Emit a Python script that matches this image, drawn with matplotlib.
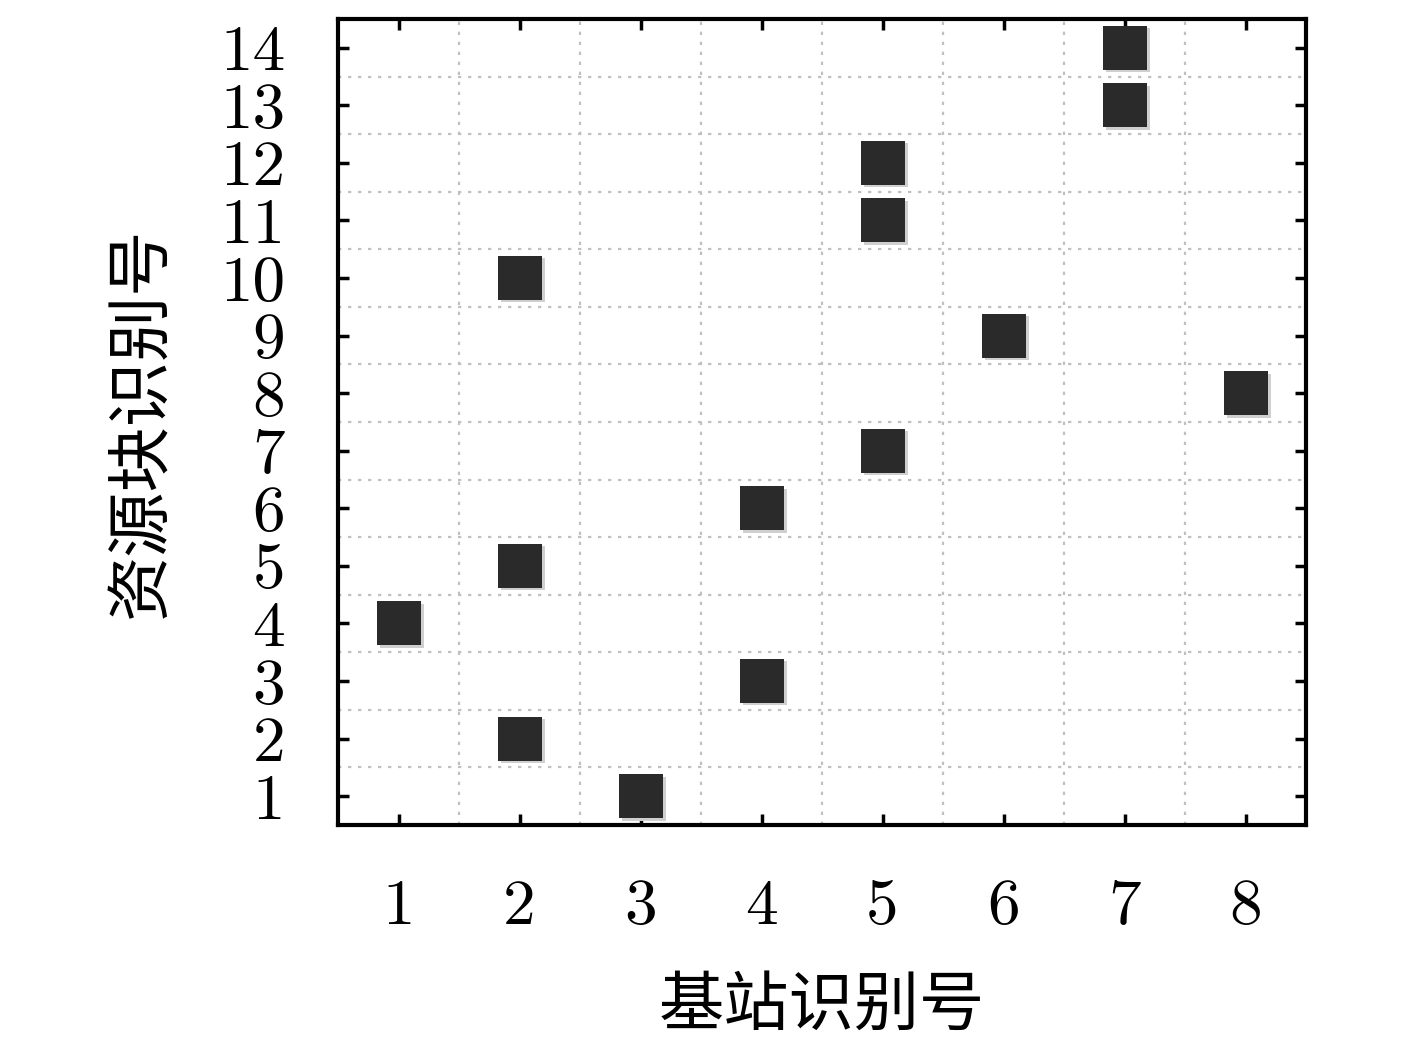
import matplotlib
matplotlib.use("Agg")
import matplotlib.pyplot as plt
import numpy as np

plt.rcParams['font.family'] = ['cmr10', 'Noto Sans CJK SC', 'DejaVu Sans']
plt.rcParams['axes.unicode_minus'] = False

# base station id -> resource block id
station = [1, 2, 2, 2, 3, 4, 4, 5, 5, 5, 6, 7, 7, 8]
block = [4, 2, 5, 10, 1, 3, 6, 7, 11, 12, 9, 13, 14, 8]
xticks = list(range(1, 9))
yticks = list(range(1, 15))

fig = plt.figure(figsize=(14.17, 10.39), dpi=100)
ax = fig.add_axes([338 / 1417, 1 - 825 / 1039, 968 / 1417, 806 / 1039])

# soft grey shadow then the dark square
ax.plot(np.array(station) + 0.03, np.array(block) - 0.04, 's', color='#cfcfcf',
        markersize=31, markeredgewidth=0, zorder=2)
ax.plot(station, block, 's', color='#2a2a2a', markersize=31,
        markeredgewidth=0, zorder=3)

ax.set_xlim(0.5, 8.5)
ax.set_ylim(0.5, 14.5)
ax.set_xticks(xticks)
ax.set_yticks(yticks)
ax.set_xticks(np.arange(1.5, 8.5, 1), minor=True)
ax.set_yticks(np.arange(1.5, 14.5, 1), minor=True)
ax.grid(False, which='major')
ax.grid(True, which='minor', linestyle=(0, (1.5, 3)), color='#c0c0c0', linewidth=1.6)
ax.tick_params(which='minor', length=0)
ax.tick_params(which='major', direction='in', length=8, width=2.5,
               top=True, right=True, labelsize=47)
ax.tick_params(axis='x', pad=39)
ax.tick_params(axis='y', pad=38)

for s in ax.spines.values():
    s.set_linewidth(3)

ax.set_xlabel('基站识别号', fontsize=47, family=['Noto Sans CJK SC'], labelpad=26)
ax.set_ylabel('资源块识别号', fontsize=47, family=['Noto Sans CJK SC'], labelpad=32)

fig.savefig('out.png', dpi=100)
